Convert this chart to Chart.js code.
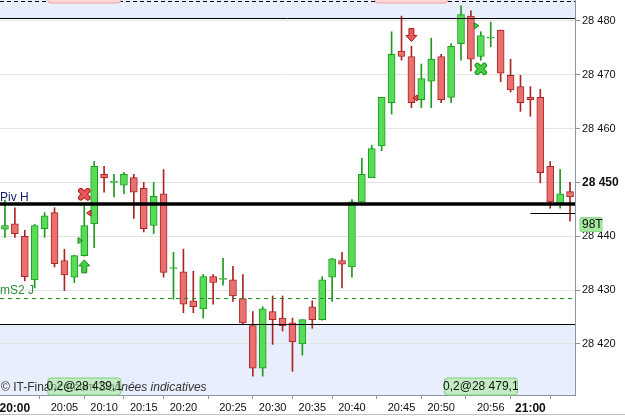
<!DOCTYPE html>
<html>
<head>
<meta charset="utf-8">
<script src="https://cdn.jsdelivr.net/npm/chart.js@4.4.1/dist/chart.umd.min.js"></script>
<style>
  html, body { margin: 0; padding: 0; background: #fff; }
</style>
</head>
<body>
<canvas id="chart" width="625" height="416"></canvas>
<script>
// Bougies (une par barre de ticks)
const opens  = [28441.3, 28442.3, 28440.0, 28431.9, 28441.4, 28444.4, 28435.5, 28432.4, 28436.4, 28442.3,
                28451.5, 28450.0, 28449.5, 28450.9, 28448.9, 28442.0, 28447.9, 28434.0, 28433.4, 28428.0,
                28426.5, 28432.5, 28432.0, 28431.9, 28428.4, 28423.4, 28415.5, 28426.0, 28424.8, 28423.9,
                28420.0, 28426.9, 28424.5, 28432.4, 28435.5, 28434.3, 28446.4, 28450.9, 28456.8, 28464.8,
                28474.4, 28473.4, 28465.4, 28468.8, 28473.4, 28465.8, 28475.8, 28480.9, 28473.4, 28476.8,
                28478.3, 28469.9, 28467.8, 28465.8, 28465.8, 28453.0, 28445.9, 28448.3];
const highs  = [28446.7, 28445.3, 28441.1, 28442.2, 28444.4, 28445.3, 28437.6, 28436.5, 28445.7, 28453.9,
                28453.0, 28451.5, 28451.9, 28451.5, 28450.0, 28450.0, 28452.4, 28437.0, 28437.6, 28433.5,
                28432.9, 28432.9, 28435.9, 28434.4, 28432.9, 28426.0, 28426.9, 28428.9, 28428.9, 28424.8,
                28424.5, 28428.0, 28432.5, 28435.9, 28437.0, 28446.8, 28454.5, 28456.9, 28465.8, 28478.0,
                28480.9, 28475.3, 28472.0, 28476.8, 28473.8, 28475.8, 28482.8, 28481.9, 28478.0, 28479.8,
                28478.3, 28472.9, 28469.9, 28467.8, 28467.3, 28453.9, 28452.4, 28450.0];
const lows   = [28439.8, 28439.8, 28431.7, 28430.4, 28439.8, 28434.3, 28429.9, 28431.4, 28436.3, 28437.9,
                28448.2, 28447.3, 28447.9, 28443.3, 28440.8, 28440.5, 28432.4, 28428.3, 28425.8, 28425.8,
                28424.8, 28427.4, 28430.9, 28427.9, 28423.7, 28414.0, 28414.0, 28419.9, 28422.4, 28414.9,
                28417.9, 28422.9, 28424.4, 28427.9, 28430.4, 28432.4, 28446.3, 28450.9, 28455.9, 28462.7,
                28472.7, 28463.9, 28463.9, 28463.9, 28464.8, 28464.8, 28472.7, 28470.7, 28472.7, 28475.2,
                28468.7, 28466.8, 28463.2, 28462.3, 28449.9, 28445.2, 28445.2, 28442.8];
const closes = [28442.0, 28440.5, 28432.5, 28442.0, 28443.8, 28434.9, 28432.8, 28436.4, 28442.0, 28453.0,
                28450.9, 28450.0, 28451.5, 28448.2, 28441.4, 28447.4, 28433.3, 28434.0, 28427.4, 28426.9,
                28432.5, 28431.4, 28432.0, 28428.9, 28423.9, 28415.5, 28426.5, 28424.5, 28423.4, 28420.4,
                28424.5, 28424.5, 28431.9, 28435.8, 28434.8, 28446.4, 28451.5, 28456.3, 28465.8, 28473.8,
                28473.4, 28464.8, 28469.3, 28472.9, 28465.4, 28475.3, 28481.2, 28472.9, 28477.3, 28476.8,
                28470.3, 28467.2, 28464.8, 28465.4, 28451.8, 28446.4, 28447.9, 28447.3];

// Repères horaires de l'axe X
const tickIdx  = [1, 6, 10, 14, 18, 23, 27, 31, 35, 40, 44, 49, 53];
const tickText = ['20:00', '20:05', '20:10', '20:15', '20:20', '20:25', '20:30',
                  '20:35', '20:40', '20:45', '20:50', '20:56', '21:00'];
const yTicks = [28420, 28430, 28440, 28450, 28460, 28470, 28480];

// Niveaux horizontaux
const levelTop = 28480.5;
const levelBottom = 28423.7;
const levelPivH = 28445.9;
const levelMS2 = 28428.6;
const levelDash = 28483.8;
const levelLast = 28444.4;

// Signaux
const sigIdx   = [8, 8, 7.57, 8.48, 41, 41.4, 48, 47.56];
const sigPrice = [28447.8, 28434.4, 28439.2, 28444.3, 28477.4, 28465.7, 28471.1, 28479.1];
const sigType  = ['crossRed', 'arrowUp', 'triRight', 'triLeft', 'arrowDown', 'triLeft', 'crossGreen', 'triRight'];

// Ordres
const orderIdx = [8, 48];
const orderText = ['0,2@28 439,1', '0,2@28 479,1'];
const topIdx = [8, 41];

const labels = opens.map((_, i) => {
  const k = tickIdx.indexOf(i);
  return k >= 0 ? tickText[k] : '';
});

const FONT = "'Liberation Sans', Arial, sans-serif";
const isUp = i => closes[i] >= opens[i];
const GREEN = '#56dc56', GREEN_D = '#1e9a1e';
const RED = '#ea7070', RED_D = '#a82626';
const AXIS = '#8797a8';

function fmt(v) {
  return String(v).replace(/\B(?=(\d{3})+(?!\d))/g, ' ');
}

function hline(ctx, area, y, color, width, dash, x0) {
  ctx.save();
  ctx.strokeStyle = color;
  ctx.lineWidth = width;
  ctx.setLineDash(dash || []);
  ctx.beginPath();
  ctx.moveTo(x0 != null ? x0 : area.left, y);
  ctx.lineTo(area.right, y);
  ctx.stroke();
  ctx.restore();
}

function drawMarker(ctx, type, x, y) {
  ctx.save();
  ctx.lineJoin = 'round';
  if (type === 'crossRed' || type === 'crossGreen') {
    const fill = type === 'crossRed' ? '#e85858' : '#44cc44';
    const edge = type === 'crossRed' ? '#b02020' : '#1e9a1e';
    const r = 3.5;
    ctx.lineCap = 'round';
    ctx.beginPath();
    ctx.moveTo(x - r, y - r); ctx.lineTo(x + r, y + r);
    ctx.moveTo(x + r, y - r); ctx.lineTo(x - r, y + r);
    ctx.strokeStyle = edge; ctx.lineWidth = 5.5; ctx.stroke();
    ctx.strokeStyle = fill; ctx.lineWidth = 3.5; ctx.stroke();
  } else if (type === 'arrowUp' || type === 'arrowDown') {
    const s = type === 'arrowUp' ? 1 : -1;
    ctx.beginPath();
    ctx.moveTo(x, y - s * 6.5);
    ctx.lineTo(x + 5.5, y - s * 0.5);
    ctx.lineTo(x + 2.5, y - s * 0.5);
    ctx.lineTo(x + 2.5, y + s * 6.5);
    ctx.lineTo(x - 2.5, y + s * 6.5);
    ctx.lineTo(x - 2.5, y - s * 0.5);
    ctx.lineTo(x - 5.5, y - s * 0.5);
    ctx.closePath();
    ctx.fillStyle = s > 0 ? '#44cc44' : '#e85858';
    ctx.strokeStyle = s > 0 ? '#1e8a1e' : '#b02020';
    ctx.lineWidth = 1;
    ctx.fill(); ctx.stroke();
  } else {
    const s = type === 'triRight' ? 1 : -1;
    ctx.beginPath();
    ctx.moveTo(x + s * 2.5, y);
    ctx.lineTo(x - s * 2, y - 3);
    ctx.lineTo(x - s * 2, y + 3);
    ctx.closePath();
    ctx.fillStyle = s > 0 ? '#44cc44' : '#e85858';
    ctx.strokeStyle = s > 0 ? '#1e8a1e' : '#b02020';
    ctx.lineWidth = 1;
    ctx.fill(); ctx.stroke();
  }
  ctx.restore();
}

function roundBox(ctx, x, y, w, h, r, fill, stroke) {
  ctx.beginPath();
  ctx.roundRect(x, y, w, h, r);
  ctx.fillStyle = fill;
  ctx.fill();
  ctx.strokeStyle = stroke;
  ctx.lineWidth = 1;
  ctx.stroke();
}

const overlay = {
  id: 'overlay',
  beforeDraw(chart) {
    const { ctx, chartArea: a, scales: { y } } = chart;
    ctx.save();
    ctx.fillStyle = '#e8eefc';
    const yt = y.getPixelForValue(levelTop);
    const yb = y.getPixelForValue(levelBottom);
    ctx.fillRect(a.left, a.top, a.right - a.left, yt - a.top);
    ctx.fillRect(a.left, yb, a.right - a.left, a.bottom - yb);
    ctx.restore();
  },
  afterDatasetsDraw(chart) {
    const { ctx, chartArea: a, scales: { x, y } } = chart;
    const py = v => Math.round(y.getPixelForValue(v)) + 0.5;
    hline(ctx, a, py(levelTop), '#000', 1);
    hline(ctx, a, py(levelBottom), '#000', 1);
    hline(ctx, a, py(levelMS2), '#1f8a1f', 1, [4, 4]);
    hline(ctx, a, py(levelDash), '#000', 1, [4, 3]);
    hline(ctx, a, Math.round(y.getPixelForValue(levelPivH)), '#000', 3.5);
    hline(ctx, a, py(levelLast), '#000', 1, null, x.getPixelForValue(53));

    sigType.forEach((t, i) => {
      drawMarker(ctx, t, x.getPixelForValue(sigIdx[i]), y.getPixelForValue(sigPrice[i]));
    });
  },
  afterDraw(chart) {
    const { ctx, chartArea: a, scales: { x, y } } = chart;
    ctx.save();
    ctx.textBaseline = 'middle';

    // Libellés des niveaux
    ctx.font = '12px ' + FONT;
    ctx.fillStyle = '#15246a';
    ctx.fillText('Piv H', 0, y.getPixelForValue(levelPivH) - 7);
    ctx.fillStyle = '#2a8c38';
    ctx.fillText('mS2 J', 0, y.getPixelForValue(levelMS2) - 7);

    // Boîtes d'ordres en haut (coupées)
    topIdx.forEach(i => {
      const cx = x.getPixelForValue(i);
      roundBox(ctx, cx - 36.5, -14, 73, 17, 3, '#ffd6d6', '#f0a0a0');
    });

    // Copyright
    ctx.fillStyle = '#333';
    ctx.font = '12px ' + FONT;
    const c1 = '\u00a9 IT-Finance.com ';
    ctx.fillText(c1, 1, 388);
    const w1 = ctx.measureText(c1).width;
    ctx.font = 'italic 12px ' + FONT;
    ctx.fillText('Donn\u00e9es indicatives', 1 + w1, 388);

    // Boîtes d'ordres en bas
    orderIdx.forEach((idx, k) => {
      const cx = x.getPixelForValue(idx);
      roundBox(ctx, cx - 36.5, a.bottom - 17, 73, 17, 3, 'rgba(170, 235, 160, 0.6)', '#7fd07a');
      ctx.fillStyle = '#111';
      ctx.font = '12px ' + FONT;
      ctx.textAlign = 'center';
      ctx.fillText(orderText[k], cx, a.bottom - 8);
      ctx.textAlign = 'left';
    });

    // Étiquette de l'axe Y
    const yl = y.getPixelForValue(levelLast);
    roundBox(ctx, a.right + 5, yl + 5, 22, 14, 1, '#a6e8a0', '#8cd886');
    ctx.fillStyle = '#111';
    ctx.font = '12px ' + FONT;
    ctx.fillText('98T', a.right + 7, yl + 12.5);

    // Ligne de pied
    ctx.strokeStyle = '#b7c3d0';
    ctx.lineWidth = 1;
    ctx.beginPath();
    ctx.moveTo(0, 414.5);
    ctx.lineTo(chart.width, 414.5);
    ctx.stroke();
    ctx.restore();
  }
};

const config = {
  type: 'bar',
  data: {
    labels: labels,
    datasets: [
      {
        data: opens.map((o, i) => [o, closes[i]]),
        backgroundColor: c => isUp(c.dataIndex) ? GREEN : RED,
        borderColor: c => isUp(c.dataIndex) ? GREEN_D : RED_D,
        borderWidth: 1,
        borderSkipped: false,
        barThickness: 7,
        minBarLength: 1,
        grouped: false,
        order: 0
      },
      {
        data: lows.map((l, i) => [l, highs[i]]),
        backgroundColor: c => isUp(c.dataIndex) ? GREEN_D : RED_D,
        borderWidth: 0,
        barThickness: 1,
        grouped: false,
        order: 1
      }
    ]
  },
  options: {
    responsive: false,
    animation: false,
    layout: { padding: 0 },
    plugins: { legend: { display: false }, tooltip: { enabled: false } },
    scales: {
      x: {
        offset: true,
        grid: { drawOnChartArea: false, tickLength: 4, tickColor: AXIS },
        border: { color: AXIS },
        afterBuildTicks: s => { s.ticks = s.ticks.filter(t => labels[t.value] !== ''); },
        afterFit: s => { s.height = 21; s.paddingLeft = 0; s.paddingRight = 0; },
        ticks: {
          autoSkip: false,
          maxRotation: 0,
          padding: 2,
          color: '#111',
          font: c => (c.tick && /:00$/.test(c.tick.label))
            ? { family: FONT, size: 12, weight: 'bold' }
            : { family: FONT, size: 11 }
        }
      },
      y: {
        position: 'right',
        min: 28410.5,
        max: 28483.9,
        grid: { color: '#e3e3e3', tickLength: 5, tickColor: AXIS },
        border: { color: AXIS },
        afterBuildTicks: s => { s.ticks = yTicks.map(v => ({ value: v })); },
        afterFit: s => { s.width = 50; s.paddingTop = 0; s.paddingBottom = 0; },
        ticks: {
          padding: 2,
          color: '#111',
          callback: v => fmt(v),
          font: c => (c.tick && c.tick.value === 28450)
            ? { family: FONT, size: 12, weight: 'bold' }
            : { family: FONT, size: 11 }
        }
      }
    }
  },
  plugins: [overlay]
};

const chart = new Chart(document.getElementById('chart').getContext('2d'), config);
</script>
</body>
</html>
